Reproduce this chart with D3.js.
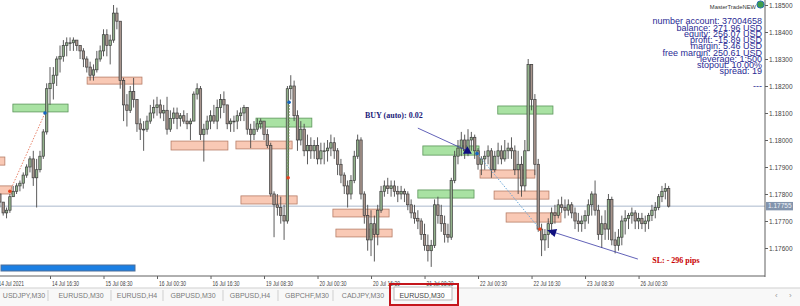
<!DOCTYPE html>
<html>
<head>
<meta charset="utf-8">
<script src="https://cdn.jsdelivr.net/npm/d3@7"></script>
<style>
body { margin: 0; background: #fff; overflow: hidden; }
text { font-family: "Liberation Sans", Arial, sans-serif; }
</style>
</head>
<body>
<script>
//EURUSD M30, one entry per hour (two M30 bars)
var firstOpen = 1.1780;
var highs = [
 1.1779,1.1777,1.1775,1.1780,1.1783,1.1784,1.1785,1.1788,1.1791,1.1794,
 1.1796,1.1793,1.1796,1.1804,1.1821,1.1827,1.1827,1.1831,1.1835,1.1837,
 1.1838,1.1838,1.1838,1.1837,1.1835,1.1834,1.1831,1.1829,1.1828,1.1833,
 1.1835,1.1841,1.1841,1.1839,1.1850,1.1849,1.1844,1.1823,1.1817,1.1820,
 1.1823,1.1815,1.1808,1.1807,1.1809,1.1813,1.1815,1.1816,1.1815,1.1813,
 1.1816,1.1811,1.1812,1.1812,1.1810,1.1811,1.1810,1.1808,1.1818,1.1821,
 1.1820,1.1806,1.1809,1.1811,1.1813,1.1815,1.1817,1.1818,1.1813,1.1808,
 1.1809,1.1811,1.1812,1.1813,1.1812,1.1806,1.1807,1.1808,1.1808,1.1807,
 1.1804,1.1799,1.1781,1.1780,1.1779,1.1776,1.1820,1.1824,1.1822,1.1811,
 1.1807,1.1806,1.1802,1.1801,1.1800,1.1801,1.1799,1.1799,1.1800,1.1802,
 1.1801,1.1797,1.1793,1.1788,1.1785,1.1787,1.1796,1.1802,1.1801,1.1781,
 1.1776,1.1774,1.1772,1.1776,1.1783,1.1785,1.1786,1.1785,1.1785,1.1783,
 1.1783,1.1782,1.1781,1.1778,1.1776,1.1774,1.1771,1.1769,1.1765,1.1763,
 1.1778,1.1779,1.1776,1.1772,1.1769,1.1786,1.1796,1.1800,1.1803,1.1802,
 1.1804,1.1803,1.1802,1.1797,1.1794,1.1796,1.1798,1.1797,1.1796,1.1799,
 1.1798,1.1800,1.1799,1.1801,1.1798,1.1796,1.1794,1.1800,1.1830,1.1828,
 1.1817,1.1793,1.1769,1.1767,1.1771,1.1775,1.1776,1.1778,1.1779,1.1778,
 1.1778,1.1777,1.1775,1.1773,1.1772,1.1774,1.1778,1.1781,1.1785,1.1776,
 1.1772,1.1774,1.1780,1.1779,1.1766,1.1767,1.1772,1.1774,1.1773,1.1775,
 1.1774,1.1773,1.1773,1.1772,1.1773,1.1776,1.1777,1.1780,1.1783,1.1784,
 1.1783];
var lows = [
 1.1775,1.1772,1.1771,1.1773,1.1779,1.1780,1.1781,1.1782,1.1786,1.1788,
 1.1783,1.1775,1.1788,1.1793,1.1802,1.1813,1.1815,1.1820,1.1825,1.1829,
 1.1831,1.1833,1.1833,1.1833,1.1830,1.1827,1.1825,1.1822,1.1822,1.1825,
 1.1829,1.1831,1.1831,1.1828,1.1836,1.1841,1.1819,1.1807,1.1805,1.1810,
 1.1812,1.1803,1.1800,1.1796,1.1803,1.1806,1.1808,1.1809,1.1808,1.1807,
 1.1802,1.1803,1.1806,1.1804,1.1805,1.1806,1.1804,1.1800,1.1807,1.1815,
 1.1800,1.1792,1.1802,1.1804,1.1806,1.1804,1.1808,1.1810,1.1804,1.1803,
 1.1803,1.1804,1.1807,1.1807,1.1802,1.1797,1.1800,1.1803,1.1804,1.1800,
 1.1797,1.1779,1.1764,1.1772,1.1769,1.1763,1.1769,1.1815,1.1807,1.1796,
 1.1798,1.1794,1.1791,1.1793,1.1793,1.1791,1.1791,1.1791,1.1792,1.1794,
 1.1793,1.1787,1.1784,1.1780,1.1775,1.1778,1.1784,1.1793,1.1778,1.1769,
 1.1759,1.1757,1.1755,1.1761,1.1773,1.1779,1.1780,1.1779,1.1779,1.1777,
 1.1778,1.1777,1.1774,1.1771,1.1769,1.1767,1.1763,1.1759,1.1755,1.1753,
 1.1760,1.1769,1.1766,1.1762,1.1762,1.1763,1.1784,1.1791,1.1794,1.1793,
 1.1794,1.1796,1.1793,1.1789,1.1787,1.1789,1.1791,1.1786,1.1788,1.1791,
 1.1791,1.1792,1.1793,1.1793,1.1787,1.1780,1.1779,1.1781,1.1796,1.1811,
 1.1787,1.1766,1.1757,1.1759,1.1760,1.1765,1.1769,1.1771,1.1773,1.1771,
 1.1772,1.1771,1.1767,1.1766,1.1766,1.1767,1.1769,1.1772,1.1772,1.1763,
 1.1760,1.1763,1.1763,1.1761,1.1758,1.1759,1.1761,1.1765,1.1767,1.1769,
 1.1767,1.1767,1.1767,1.1766,1.1767,1.1770,1.1771,1.1774,1.1777,1.1778,
 1.1775];
var closes = [
 1.1777,1.1773,1.1774,1.1779,1.1781,1.1783,1.1784,1.1787,1.1790,1.1793,
 1.1786,1.1789,1.1794,1.1803,1.1819,1.1821,1.1824,1.1830,1.1831,1.1835,
 1.1836,1.1836,1.1837,1.1835,1.1833,1.1830,1.1827,1.1824,1.1826,1.1830,
 1.1833,1.1839,1.1835,1.1837,1.1847,1.1844,1.1822,1.1813,1.1811,1.1818,
 1.1815,1.1806,1.1804,1.1804,1.1807,1.1810,1.1812,1.1813,1.1810,1.1811,
 1.1804,1.1808,1.1810,1.1808,1.1809,1.1807,1.1806,1.1807,1.1817,1.1819,
 1.1802,1.1804,1.1807,1.1809,1.1807,1.1812,1.1815,1.1813,1.1806,1.1807,
 1.1807,1.1809,1.1810,1.1812,1.1804,1.1802,1.1804,1.1806,1.1807,1.1802,
 1.1798,1.1780,1.1776,1.1775,1.1772,1.1770,1.1819,1.1820,1.1809,1.1800,
 1.1804,1.1796,1.1798,1.1796,1.1798,1.1793,1.1796,1.1796,1.1797,1.1799,
 1.1796,1.1791,1.1787,1.1783,1.1780,1.1785,1.1794,1.1800,1.1780,1.1772,
 1.1763,1.1769,1.1765,1.1774,1.1781,1.1783,1.1782,1.1783,1.1781,1.1780,
 1.1781,1.1780,1.1776,1.1773,1.1771,1.1770,1.1765,1.1761,1.1759,1.1761,
 1.1776,1.1772,1.1769,1.1765,1.1764,1.1785,1.1794,1.1797,1.1800,1.1796,
 1.1800,1.1801,1.1796,1.1791,1.1793,1.1794,1.1796,1.1789,1.1794,1.1796,
 1.1793,1.1796,1.1797,1.1796,1.1789,1.1791,1.1783,1.1796,1.1828,1.1815,
 1.1791,1.1767,1.1763,1.1765,1.1769,1.1773,1.1772,1.1776,1.1775,1.1774,
 1.1776,1.1773,1.1770,1.1769,1.1770,1.1772,1.1776,1.1780,1.1774,1.1765,
 1.1769,1.1767,1.1778,1.1763,1.1761,1.1764,1.1770,1.1771,1.1772,1.1773,
 1.1770,1.1771,1.1769,1.1770,1.1772,1.1774,1.1775,1.1779,1.1781,1.1782,
 1.17755];

var lastPrice = 1.17755;

//axis ticks
var priceTicks = [1.185,1.184,1.183,1.182,1.181,1.180,1.179,1.178,1.177,1.176];
var timeBars = [0,16,32,48,64,80,96,112,128,144,160,176,192];
var timeLabels = ["14 Jul 2021","14 Jul 16:30","15 Jul 08:30","16 Jul 00:30","16 Jul 16:30",
  "19 Jul 08:30","20 Jul 00:30","20 Jul 16:30","21 Jul 08:30","22 Jul 00:30",
  "22 Jul 16:30","23 Jul 08:30","26 Jul 00:30"];

//supply / demand zones: [type, from bar, to bar, top price, bottom price]
var zones = [
  ["sell", -3, 2.5, 1.17937, 1.17907],
  ["sell", -3, 4.6, 1.17830, 1.17800],
  ["buy", 4.9, 21.4, 1.18133, 1.18104],
  ["sell", 27.1, 43.5, 1.18233, 1.18207],
  ["sell", 52.2, 69.2, 1.17996, 1.17963],
  ["sell", 71.6, 88.4, 1.17996, 1.17967],
  ["buy", 77.6, 94.3, 1.18081, 1.18048],
  ["sell", 73.1, 89.9, 1.17793, 1.17763],
  ["sell", 100.6, 117.4, 1.17744, 1.17715],
  ["sell", 101.5, 118.3, 1.17670, 1.17641],
  ["buy", 127.5, 144.3, 1.17978, 1.17944],
  ["buy", 126.0, 142.8, 1.17815, 1.17785],
  ["sell", 144.6, 161.0, 1.17889, 1.17859],
  ["buy", 149.9, 166.4, 1.18126, 1.18096],
  ["sell", 148.8, 165.2, 1.17811, 1.17781],
  ["sell", 152.4, 168.8, 1.17730, 1.17696]
];

//closed trades: bars, prices, dot colours, line colour
var tradeBars = [[4, 14.5], [87.5, 87.2], [143.7, 162.5]];
var tradePrices = [[1.1781, 1.1810], [1.1814, 1.1786], [1.1795, 1.1767]];
var tradeDots = [["#e8431d", "#1565c0"], ["#1565c0", "#e8431d"], ["#1565c0", "#e8431d"]];
var tradeLines = ["#e8836a", "#6b8a55", "#6aa7d8"];

var accountInfo = ["number account: 37004658", "balance: 271.96 USD", "equity: 256.07 USD",
  "profit: -15.89 USD", "margin: 5.46 USD", "free margin: 250.61 USD", "leverage: 1:500",
  "stopout: 10.00%", "spread: 19"];

var tabs = ["USDJPY,M30", "EURUSD,M30", "EURUSD,H4", "GBPUSD,M30", "GBPUSD,H4",
  "GBPCHF,M30", "CADJPY,M30", "EURUSD,M30"];

//setting the width and height
var width = 800,
    height = 306,
    plotRight = 765,
    plotBottom = 276;

var svg = d3.select("body").append("svg")
    .attr("width", width)
    .attr("height", height);

//scales
var x = d3.scaleLinear().domain([0, 200]).range([-3.5, 665.3]);
var y = d3.scaleLinear().domain([1.176, 1.185]).range([248, 5]);

svg.append("clipPath").attr("id", "plot")
  .append("rect").attr("x", 0).attr("y", 0).attr("width", plotRight).attr("height", plotBottom);

var plot = svg.append("g").attr("clip-path", "url(#plot)");

//zones
plot.selectAll("rect.zone")
    .data(zones)
    .enter().append("rect")
    .attr("class", "zone")
    .attr("x", function(d) { return x(d[1]); })
    .attr("y", function(d) { return y(d[3]); })
    .attr("width", function(d) { return x(d[2]) - x(d[1]); })
    .attr("height", function(d) { return y(d[4]) - y(d[3]); })
    .style("fill", function(d) { return d[0] == "buy" ? "#a9e2a3" : "#f9c9b5"; })
    .style("stroke", function(d) { return d[0] == "buy" ? "#5b955a" : "#b67d67"; })
    .style("stroke-width", 0.8);

//current price line
plot.append("line")
    .attr("x1", 0).attr("x2", plotRight)
    .attr("y1", y(lastPrice)).attr("y2", y(lastPrice))
    .style("stroke", "#aab8cc").style("stroke-width", 1);

//candles
var bars = closes.map(function(c, i) {
  return { i: i + 1, o: i ? closes[i - 1] : firstOpen, h: highs[i], l: lows[i], c: c };
});

var candle = plot.selectAll("g.bar")
    .data(bars)
    .enter().append("g")
    .attr("class", "bar");

candle.append("line")
    .attr("x1", function(d) { return x(d.i); })
    .attr("x2", function(d) { return x(d.i); })
    .attr("y1", function(d) { return y(Math.max(d.h, d.o, d.c)); })
    .attr("y2", function(d) { return y(Math.min(d.l, d.o, d.c)); })
    .style("stroke", "#4a4a4a").style("stroke-width", 0.9);

candle.append("rect")
    .attr("x", function(d) { return x(d.i) - 1.2; })
    .attr("width", 2.4)
    .attr("y", function(d) { return y(Math.max(d.o, d.c)); })
    .attr("height", function(d) { return Math.max(0.8, Math.abs(y(d.o) - y(d.c))); })
    .style("fill", function(d) { return d.c >= d.o ? "#93b28c" : "#a8958d"; })
    .style("stroke", "#3c3c3c").style("stroke-width", 0.7);

//trades
tradeBars.forEach(function(b, k) {
  var p = tradePrices[k];
  plot.append("line")
      .attr("x1", x(b[0])).attr("y1", y(p[0]))
      .attr("x2", x(b[1])).attr("y2", y(p[1]))
      .style("stroke", tradeLines[k]).style("stroke-width", k == 1 ? 1.5 : 1)
      .style("stroke-dasharray", "1.5,1.5");
  [0, 1].forEach(function(j) {
    plot.append("circle")
        .attr("cx", x(b[j])).attr("cy", y(p[j])).attr("r", 1.8)
        .style("fill", tradeDots[k][j]);
  });
});

//BUY annotation
var buyText = { bar: 110.2, price: 1.18081 },
    buyFrom = { bar: 126.0, price: 1.18044 },
    buyTo = { bar: 140.8, price: 1.17960 };

plot.append("line")
    .attr("x1", x(buyFrom.bar)).attr("y1", y(buyFrom.price))
    .attr("x2", x(buyTo.bar)).attr("y2", y(buyTo.price))
    .style("stroke", "#3a3aa6").style("stroke-width", 0.8);
plot.append("path")
    .attr("transform", "translate(" + x(buyTo.bar) + "," + y(buyTo.price) + ")")
    .attr("d", "M-4.5,3L4.5,3L0,-4.5Z")
    .style("fill", "#101080");
svg.append("text")
    .attr("x", x(buyText.bar)).attr("y", y(buyText.price))
    .text("BUY (auto): 0.02")
    .style("font-family", "'Liberation Serif','Times New Roman',serif")
    .style("font-weight", "bold").style("font-size", "8px")
    .style("fill", "#1c1c7a");

//SL annotation
var slText = { bar: 196.1, price: 1.17544 },
    slFrom = { bar: 191.8, price: 1.17559 },
    slTo = { bar: 164.7, price: 1.17666 };

var sx1 = x(slFrom.bar), sy1 = y(slFrom.price), sx2 = x(slTo.bar), sy2 = y(slTo.price);
var ang = Math.atan2(sy2 - sy1, sx2 - sx1) * 180 / Math.PI;
plot.append("line")
    .attr("x1", sx1).attr("y1", sy1).attr("x2", sx2).attr("y2", sy2)
    .style("stroke", "#3a3aa6").style("stroke-width", 0.8);
plot.append("path")
    .attr("transform", "translate(" + sx2 + "," + sy2 + ") rotate(" + ang + ")")
    .attr("d", "M0,0L-9,-4.2L-9,4.2Z")
    .style("fill", "#101080");
svg.append("text")
    .attr("x", x(slText.bar)).attr("y", y(slText.price))
    .text("SL: - 296 pips")
    .style("font-family", "'Liberation Serif','Times New Roman',serif")
    .style("font-weight", "bold").style("font-size", "8px")
    .style("fill", "#c80000");

//progress bar bottom left
svg.append("rect")
    .attr("x", 1).attr("y", 265).attr("width", 134).attr("height", 6)
    .style("fill", "#1b7fe3").style("stroke", "#4f6f98").style("stroke-width", 1);

//frame lines
svg.append("line").attr("x1", plotRight).attr("x2", plotRight).attr("y1", 0).attr("y2", plotBottom + 1)
    .style("stroke", "#606060");
svg.append("line").attr("x1", 0).attr("x2", plotRight).attr("y1", plotBottom).attr("y2", plotBottom)
    .style("stroke", "#606060");

//price axis
var yAxis = svg.append("g")
    .attr("transform", "translate(" + plotRight + ",0)")
    .call(d3.axisRight(y).tickValues(priceTicks).tickFormat(d3.format(".5f")).tickSize(3).tickPadding(1));
yAxis.select(".domain").remove();
yAxis.selectAll("line").style("stroke", "#606060");
yAxis.selectAll("text").style("font-size", "6.5px").style("fill", "#444")
    .style("font-family", "'Liberation Sans', Arial, sans-serif");

//current price tag
svg.append("rect")
    .attr("x", plotRight + 1).attr("y", y(lastPrice) - 4.2).attr("width", 27).attr("height", 8.4)
    .style("fill", "#8294ad");
svg.append("text")
    .attr("x", plotRight + 3).attr("y", y(lastPrice) + 2.2)
    .text(d3.format(".5f")(lastPrice))
    .style("font-size", "6.5px").style("fill", "#eef2f8");

//time axis
var xAxis = svg.append("g")
    .attr("transform", "translate(0," + plotBottom + ")")
    .call(d3.axisBottom(x).tickValues(timeBars)
      .tickFormat(function(d, i) { return timeLabels[i]; })
      .tickSize(3).tickPadding(2));
xAxis.select(".domain").remove();
xAxis.selectAll("line").style("stroke", "#606060");
xAxis.selectAll("text")
    .attr("text-anchor", "start")
    .attr("x", 2)
    .attr("transform", "scale(0.76,1)")
    .style("font-size", "6.5px").style("fill", "#444")
    .style("font-family", "'Liberation Sans', Arial, sans-serif");

//account info block
svg.append("text")
    .attr("x", 756).attr("y", 8.5)
    .attr("text-anchor", "end")
    .text("MasterTradeNEW")
    .style("font-size", "5.8px").style("fill", "#333");
svg.append("circle").attr("cx", 760.5).attr("cy", 4.5).attr("r", 3.6)
    .style("fill", "#3f9d4a").style("stroke", "#2a6fb0").style("stroke-width", 1);

svg.selectAll("text.info")
    .data(accountInfo)
    .enter().append("text")
    .attr("class", "info")
    .attr("x", 762)
    .attr("y", function(d, i) { return 24.3 + i * 6.25; })
    .attr("text-anchor", "end")
    .text(function(d) { return d; })
    .style("font-size", "9px").style("fill", "#2a2a94");

svg.append("text")
    .attr("x", 762).attr("y", 88.5)
    .attr("text-anchor", "end")
    .text("---")
    .style("font-size", "9px").style("fill", "#2a2a94");

//tab bar
svg.append("rect").attr("x", 0).attr("y", 288).attr("width", width).attr("height", 18)
    .style("fill", "#f8f8f8");
svg.append("line").attr("x1", 0).attr("x2", width).attr("y1", 288).attr("y2", 288)
    .style("stroke", "#cfcfcf");

var tabCenters = [24, 81, 137, 193, 250, 307, 363, 422];
var tabSeps = [48, 111, 163, 223, 278, 333, 390];

svg.selectAll("line.sep")
    .data(tabSeps)
    .enter().append("line")
    .attr("class", "sep")
    .attr("x1", function(d) { return d; }).attr("x2", function(d) { return d; })
    .attr("y1", 290).attr("y2", 301)
    .style("stroke", "#cfcfcf");

svg.append("rect").attr("x", 394).attr("y", 287).attr("width", 58).attr("height", 13)
    .style("fill", "#fff").style("stroke", "#a8a8a8").style("stroke-width", 0.8);
svg.append("rect").attr("x", 390).attr("y", 284).attr("width", 68).attr("height", 21)
    .style("fill", "none").style("stroke", "#c4161c").style("stroke-width", 2);

svg.selectAll("text.tab")
    .data(tabs)
    .enter().append("text")
    .attr("class", "tab")
    .attr("x", function(d, i) { return tabCenters[i]; })
    .attr("y", 297.5)
    .attr("text-anchor", "middle")
    .text(function(d) { return d; })
    .style("font-size", "7px")
    .style("fill", function(d, i) { return i == 7 ? "#444" : "#7a7a7a"; });

svg.append("text").attr("x", 775).attr("y", 298).text("\u2039")
    .style("font-size", "8px").style("fill", "#999");
svg.append("text").attr("x", 789).attr("y", 298).text("\u203a")
    .style("font-size", "8px").style("fill", "#999");
</script>
</body>
</html>
